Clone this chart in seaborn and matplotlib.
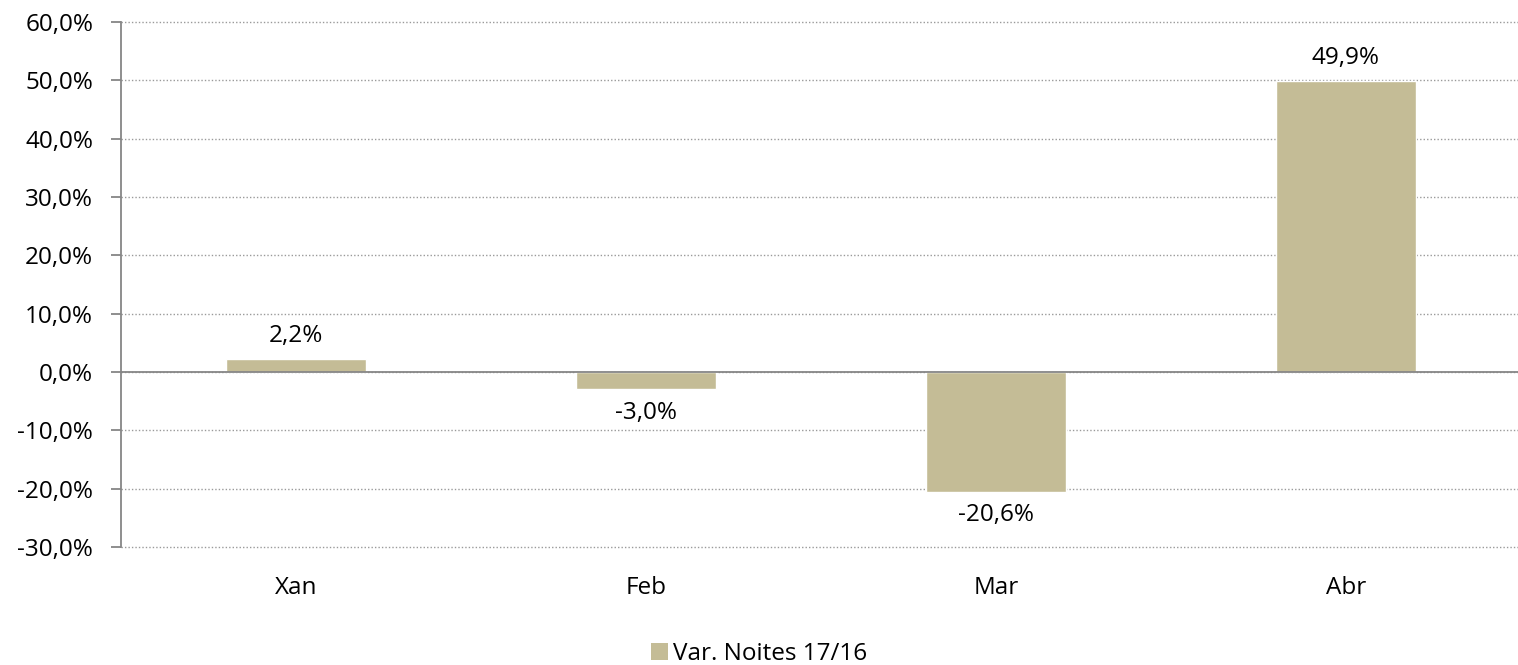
import numpy as np
import pandas as pd
import seaborn as sns
from matplotlib import pyplot as plt
from matplotlib.patches import Patch

months = ['Xan', 'Feb', 'Mar', 'Abr']
var_noites = [2.2, -3.0, -20.6, 49.9]
series_name = 'Var. Noites 17/16'
yticks = [-30, -20, -10, 0, 10, 20, 30, 40, 50, 60]

bar_color = '#C4BC96'
axis_color = '#868686'
fs = 17.5

sns.set_style('white')
plt.rcParams['font.family'] = ['Open Sans', 'DejaVu Sans']
plt.rcParams['text.color'] = 'black'
plt.rcParams['xtick.color'] = 'black'
plt.rcParams['ytick.color'] = 'black'

df = pd.DataFrame({'mes': months, 'var': var_noites})

fig = plt.figure(figsize=(15.18, 6.65), dpi=100)
ax = fig.add_axes([121 / 1518, 118 / 665, 1400 / 1518, 525 / 665])

sns.barplot(data=df, x='mes', y='var', color=bar_color, width=0.4,
            saturation=1, ax=ax)
ax.set_xlim(-0.5, 3.5)
ax.set_ylim(-30, 60)
ax.set_yticks(yticks)
ax.set_yticklabels([f'{v:.1f}%'.replace('.', ',') for v in yticks], fontsize=fs)
ax.yaxis.grid(True, linestyle=(0, (1, 1.5)), color='#9a9a9a', linewidth=1)
for gl in ax.get_ygridlines():
    gl.set_clip_on(False)
ax.set_axisbelow(True)
ax.set_xlabel('')
ax.set_ylabel('')

for s in ['top', 'right']:
    ax.spines[s].set_visible(False)
ax.spines['left'].set_color(axis_color)
ax.spines['left'].set_linewidth(1.3)
ax.spines['bottom'].set_position(('data', 0))
ax.spines['bottom'].set_color(axis_color)
ax.spines['bottom'].set_linewidth(1.3)
ax.spines['bottom'].set_zorder(3)

# category boundary ticks on the zero line
ax.set_xticks(np.arange(4))
ax.set_xticklabels([])
ax.tick_params(axis='x', which='major', length=0)
ax.set_xticks(np.arange(4) + 0.5, minor=True)
ax.tick_params(axis='x', which='minor', length=6, width=1.3,
               color=axis_color, direction='out')
ax.tick_params(axis='y', length=7, width=1.3, color=axis_color,
               labelcolor='black', direction='out', left=True, pad=13)

# month labels below the plot area
sec = ax.secondary_xaxis('bottom')
sec.set_xticks(np.arange(4))
sec.set_xticklabels(months, fontsize=fs)
sec.tick_params(length=0, pad=21, labelcolor='black')
sec.spines['bottom'].set_visible(False)

ax.bar_label(ax.containers[0],
             labels=[f'{v:.1f}%'.replace('.', ',') for v in var_noites],
             padding=8, fontsize=fs, color='black')

handle = Patch(facecolor=bar_color, edgecolor='none')
fig.legend([handle], [series_name], loc='lower center',
           bbox_to_anchor=(0.5, -0.035), frameon=False, fontsize=fs,
           handlelength=0.7, handleheight=0.7, handletextpad=0.2)

fig.savefig('out.png')
